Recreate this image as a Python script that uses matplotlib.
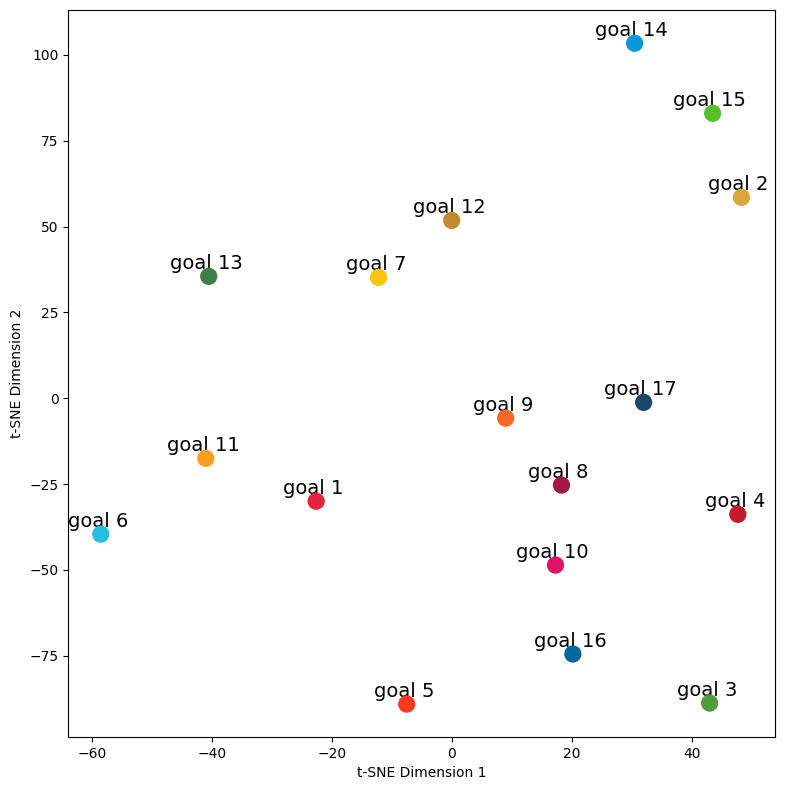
import matplotlib
matplotlib.use('Agg')
import matplotlib.pyplot as plt

# t-SNE coordinates of the 17 goals
labels = ['goal %d' % i for i in range(1, 18)]
tsne_x = [-22.6, 48.3, 43.0, 47.7, -7.5, -58.5, -12.2, 18.3, 9.0, 17.3,
          -41.0, 0.0, -40.5, 30.5, 43.5, 20.2, 32.0]
tsne_y = [-30.0, 58.5, -88.8, -33.8, -89.1, -39.6, 35.2, -25.3, -5.8, -48.6,
          -17.5, 51.8, 35.5, 103.4, 83.0, -74.5, -1.2]
colors = ['#E5243B', '#DDA63A', '#4C9F38', '#C5192D', '#FF3A21', '#26BDE2',
          '#FCC30B', '#A21942', '#FD6925', '#DD1367', '#FD9D24', '#BF8B2E',
          '#3F7E44', '#0A97D9', '#56C02B', '#00689D', '#19486A']

fig, ax = plt.subplots(figsize=(7.86, 7.9), dpi=100)
fig.subplots_adjust(left=0.087, right=0.986, top=0.987, bottom=0.067)

ax.scatter(tsne_x, tsne_y, c=colors, s=130, zorder=4)
for lab, x, y in zip(labels, tsne_x, tsne_y):
    ax.annotate(lab, (x, y), xytext=(-2, 5), textcoords='offset points',
                ha='center', va='baseline', fontsize=14)

ax.set_xlim(-63.9, 53.9)
ax.set_ylim(-98.7, 113)
ax.set_xlabel('t-SNE Dimension 1')
ax.set_ylabel('t-SNE Dimension 2')

plt.savefig('out.png', dpi=100)
